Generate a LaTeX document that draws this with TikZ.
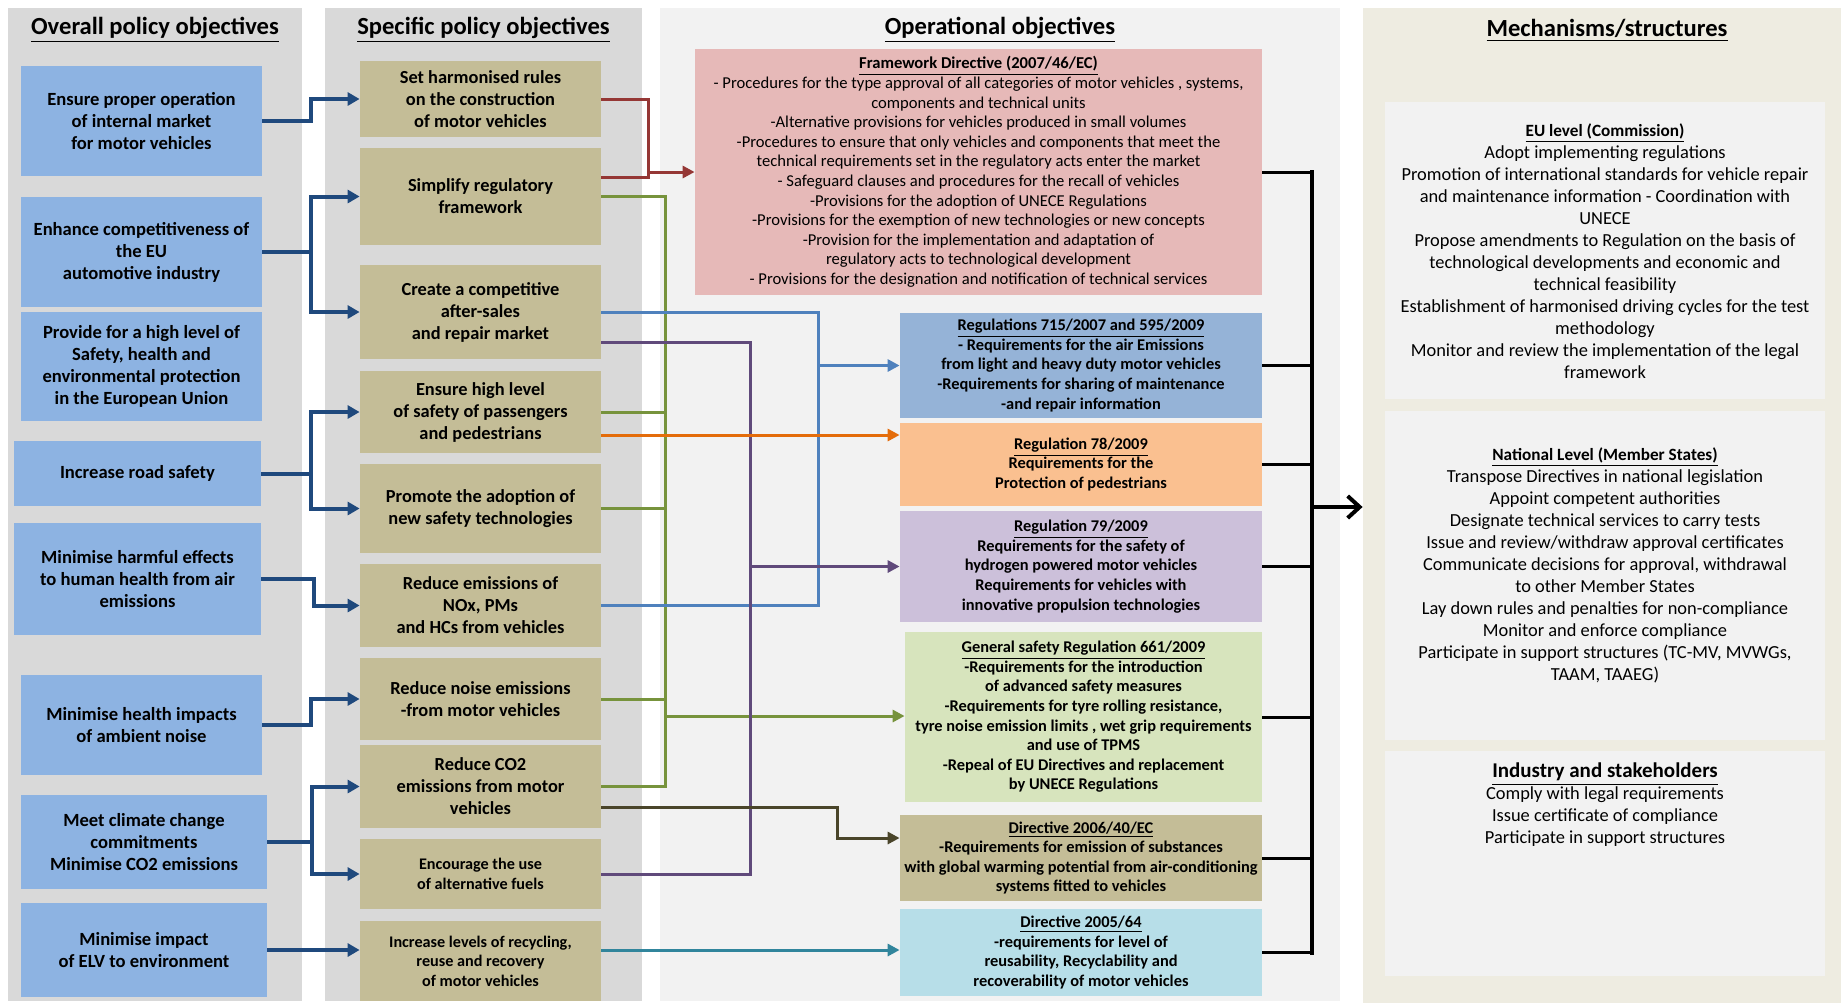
\documentclass[tikz,border=0pt]{standalone}
\usepackage{fontspec}
\setmainfont{Carlito}
\usetikzlibrary{arrows.meta, positioning, calc}

\definecolor{colgray}{HTML}{D9D9D9}
\definecolor{opgray}{HTML}{F2F2F2}
\definecolor{mechbg}{HTML}{EEECE1}
\definecolor{objblue}{HTML}{8DB3E2}
\definecolor{specsand}{HTML}{C4BD97}
\definecolor{fwpink}{HTML}{E6B9B8}
\definecolor{emisblue}{HTML}{95B3D7}
\definecolor{pedorange}{HTML}{FAC090}
\definecolor{hydlilac}{HTML}{CCC0DA}
\definecolor{gsrgreen}{HTML}{D7E4BD}
\definecolor{elvcyan}{HTML}{B7DEE8}
\definecolor{arrnavy}{HTML}{1F497D}
\definecolor{arrred}{HTML}{953735}
\definecolor{arrgreen}{HTML}{77933C}
\definecolor{arrsteel}{HTML}{4F81BD}
\definecolor{arrpurple}{HTML}{604A7B}
\definecolor{arrorange}{HTML}{E46C0A}
\definecolor{arrolive}{HTML}{4A452A}
\definecolor{arrteal}{HTML}{31859C}

\begin{document}
\begin{tikzpicture}[x=0.5pt, y=-0.5pt,
  colbg/.style={inner sep=0, minimum height=496.5pt},
  coltitle/.style={font=\fontsize{12.3}{14}\selectfont\bfseries},
  objbox/.style={fill=objblue, inner sep=0, align=center, font=\fontsize{9.3}{11}\selectfont\bfseries},
  specbox/.style={fill=specsand, inner sep=0, minimum width=120.5pt, align=center, font=\fontsize{9.2}{11}\selectfont\bfseries},
  smallspec/.style={font=\fontsize{8.1}{9.8}\selectfont\bfseries},
  opbox/.style={inner sep=0, align=center, font=\fontsize{8.2}{9.8}\selectfont\bfseries},
  panel/.style={fill=opgray, inner sep=0, minimum width=220pt},
  paneltext/.style={align=center, font=\fontsize{9.2}{11}\selectfont},
  navyarr/.style={draw=arrnavy, line width=2pt, -{Triangle[length=6pt,width=6.5pt]}},
  conn/.style={line width=1.5pt},
  connarr/.style={line width=1.5pt, -{Triangle[length=6pt,width=6pt]}},
]
  \useasboundingbox (0,0) rectangle (1841,1003);

  % Column backgrounds and headings
  \node[colbg, fill=colgray, minimum width=147pt] (c1) at (155,504.5) {};
  \node[colbg, fill=colgray, minimum width=158.5pt] (c2) at (483.5,504.5) {};
  \node[colbg, fill=opgray, minimum width=340pt] (c3) at (1000,504.5) {};
  \node[colbg, fill=mechbg, minimum width=239pt, minimum height=497.5pt] (c4) at (1602,505.5) {};

  \node[coltitle] (t1) at (155,30) {\underline{Overall policy objectives}};
  \node[coltitle] (t2) at (483.5,30) {\underline{Specific policy objectives}};
  \node[coltitle] (t3) at (1000,30) {\underline{Operational objectives}};
  \node[coltitle] (t4) at (1607,30) {\underline{Mechanisms/structures}};

  % Overall policy objectives
  \node[objbox, minimum width=120.5pt, minimum height=55pt] (o1) at (141.5,121) {Ensure proper operation\\of internal market\\for motor vehicles};
  \node[objbox, minimum width=120.5pt, minimum height=55pt] (o2) at (141.5,252) {Enhance competitiveness of\\the EU\\automotive industry};
  \node[objbox, minimum width=120.5pt, minimum height=54.5pt] (o3) at (141.5,366.5) {Provide for a high level of\\Safety, health and\\environmental protection\\in the European Union};
  \node[objbox, minimum width=123.5pt, minimum height=32.5pt] (o4) at (137.5,473.5) {Increase road safety};
  \node[objbox, minimum width=123.5pt, minimum height=56pt] (o5) at (137.5,579) {Minimise harmful effects\\to human health from air\\emissions};
  \node[objbox, minimum width=120.5pt, minimum height=50pt] (o6) at (141.5,725) {Minimise health impacts\\of ambient noise};
  \node[objbox, minimum width=123pt, minimum height=47pt] (o7) at (144,842) {Meet climate change\\commitments\\Minimise CO2 emissions};
  \node[objbox, minimum width=123pt, minimum height=47pt] (o8) at (144,950) {Minimise impact\\of ELV to environment};

  % Specific policy objectives
  \node[specbox, minimum height=38pt] (s1) at (480.5,99) {Set harmonised rules\\on the construction\\of motor vehicles};
  \node[specbox, minimum height=48.5pt] (s2) at (480.5,196.5) {Simplify regulatory\\framework};
  \node[specbox, minimum height=47pt] (s3) at (480.5,312) {Create a competitive\\after-sales\\and repair market};
  \node[specbox, minimum height=41pt] (s4) at (480.5,412) {Ensure high level\\of safety of passengers\\and pedestrians};
  \node[specbox, minimum height=44.5pt] (s5) at (480.5,508.5) {Promote the adoption of\\new safety technologies};
  \node[specbox, minimum height=41.5pt] (s6) at (480.5,605.5) {Reduce emissions of\\NOx, PMs\\and HCs from vehicles};
  \node[specbox, minimum height=41pt] (s7) at (480.5,699) {Reduce noise emissions\\-from motor vehicles};
  \node[specbox, minimum height=41.5pt] (s8) at (480.5,786.5) {Reduce CO2\\emissions from motor\\vehicles};
  \node[specbox, smallspec, minimum height=35pt] (s9) at (480.5,874) {Encourage the use\\of alternative fuels};
  \node[specbox, smallspec, minimum height=40pt] (s10) at (480.5,961) {Increase levels of recycling,\\reuse and recovery\\of motor vehicles};

  % Operational objectives
  \node[opbox, fill=fwpink, minimum width=283.5pt, minimum height=123pt, font=\fontsize{8.3}{9.8}\selectfont] (fd) at (978.5,172) {\textbf{\underline{Framework Directive (2007/46/EC)}}\\- Procedures for the type approval of all categories of motor vehicles , systems,\\components and technical units\\-Alternative provisions for vehicles produced in small volumes\\-Procedures to ensure that only vehicles and components that meet the\\technical requirements set in the regulatory acts enter the market\\- Safeguard clauses and procedures for the recall of vehicles\\-Provisions for the adoption of UNECE Regulations\\-Provisions for the exemption of new technologies or new concepts\\-Provision for the implementation and adaptation of\\regulatory acts to technological development\\- Provisions for the designation and notification of technical services};
  \node[opbox, fill=emisblue, minimum width=181pt, minimum height=52.5pt] (r1) at (1081,365.5) {\underline{Regulations 715/2007 and 595/2009}\\- Requirements for the air Emissions\\from light and heavy duty motor vehicles\\-Requirements for sharing of maintenance\\-and repair information};
  \node[opbox, fill=pedorange, minimum width=181pt, minimum height=41.5pt] (r2) at (1081,464.5) {\underline{Regulation 78/2009}\\Requirements for the\\Protection of pedestrians};
  \node[opbox, fill=hydlilac, minimum width=181pt, minimum height=55.5pt] (r3) at (1081,566.5) {\underline{Regulation 79/2009}\\Requirements for the safety of\\hydrogen powered motor vehicles\\Requirements for vehicles with\\innovative propulsion technologies};
  \node[opbox, fill=gsrgreen, minimum width=178.5pt, minimum height=85pt] (r4) at (1083.5,717) {\underline{General safety Regulation 661/2009}\\-Requirements for the introduction\\of advanced safety measures\\-Requirements for tyre rolling resistance,\\tyre noise emission limits , wet grip requirements\\and use of TPMS\\-Repeal of EU Directives and replacement\\by UNECE Regulations};
  \node[opbox, fill=specsand, minimum width=181pt, minimum height=43pt] (r5) at (1081,858) {\underline{Directive 2006/40/EC}\\-Requirements for emission of substances\\with global warming potential from air-conditioning\\systems fitted to vehicles};
  \node[opbox, fill=elvcyan, minimum width=181pt, minimum height=43.5pt] (r6) at (1081,952.5) {\underline{Directive 2005/64}\\-requirements for level of\\reusability, Recyclability and\\recoverability of motor vehicles};

  % Mechanisms/structures
  \node[panel, minimum height=148.5pt] (p1) at (1605,250.5) {};
  \node[panel, minimum height=164.5pt] (p2) at (1605,575.5) {};
  \node[panel, minimum height=112.5pt] (p3) at (1605,863.5) {};
  \node[paneltext] (p1t) at (1605,251) {{\fontsize{8.6}{11}\selectfont\textbf{\underline{EU level (Commission)}}}\\Adopt implementing regulations\\Promotion of international standards for vehicle repair\\and maintenance information - Coordination with\\UNECE\\Propose amendments to Regulation on the basis of\\technological developments and economic and\\technical feasibility\\Establishment of harmonised driving cycles for the test\\methodology\\Monitor and review the implementation of the legal\\framework};
  \node[paneltext] (p2t) at (1605,565) {{\fontsize{8.6}{11}\selectfont\textbf{\underline{National Level (Member States)}}}\\Transpose Directives in national legislation\\Appoint competent authorities\\Designate technical services to carry tests\\Issue and review/withdraw approval certificates\\Communicate decisions for approval, withdrawal\\to other Member States\\Lay down rules and penalties for non-compliance\\Monitor and enforce compliance\\Participate in support structures (TC-MV, MVWGs,\\TAAM, TAAEG)};
  \node[paneltext, anchor=north] (p3t) at (1605,756) {{\fontsize{10.5}{12}\selectfont\textbf{\underline{Industry and stakeholders}}}\\Comply with legal requirements\\Issue certificate of compliance\\Participate in support structures};

  % Overall -> specific
  \draw[navyarr] (o1.east) -- ++(49,0) |- (s1.west);
  \draw[navyarr] (o2.east) -- ++(49,0) |- (s2.west);
  \draw[navyarr] (o2.east) -- ++(49,0) |- (s3.west);
  \draw[navyarr] (o4.east) -- ++(50,0) |- (s4.west);
  \draw[navyarr] (o4.east) -- ++(50,0) |- (s5.west);
  \draw[navyarr] (o5.east) -- ++(53,0) |- (s6.west);
  \draw[navyarr] (o6.east) -- ++(49,0) |- (s7.west);
  \draw[navyarr] (o7.east) -- ++(45,0) |- (s8.west);
  \draw[navyarr] (o7.east) -- ++(45,0) |- (s9.west);
  \draw[navyarr] (o8.east) -- (o8.east -| s10.west);

  % Specific -> operational
  \coordinate (rj) at (648,172);
  \coordinate (gj) at (665,716);
  \coordinate (bj) at (818,365.5);
  \coordinate (pj) at (750,566.5);
  \coordinate (oa) at ($(s4.east)+(0,23)$);
  \coordinate (ka) at ($(s8.east)+(0,20.5)$);
  \coordinate (kb) at ($(r5.west)+(0,-20)$);
  \coordinate (ta) at ($(s10.east)+(0,-11)$);

  \draw[conn, arrred] (s1.east) -| (rj);
  \draw[conn, arrred] ($(s2.east)+(0,-19.5)$) -| (rj);
  \draw[connarr, arrred] (rj) -- (rj -| fd.west);

  \foreach \s in {s2,s4,s5,s7,s8}
    \draw[conn, arrgreen] (\s.east) -| (gj);
  \draw[connarr, arrgreen] (gj) -- (gj -| r4.west);

  \draw[conn, arrsteel] (s3.east) -| (bj);
  \draw[conn, arrsteel] (s6.east) -| (bj);
  \draw[connarr, arrsteel] (bj) -- (r1.west);

  \draw[conn, arrpurple] ($(s3.east)+(0,30)$) -| (pj);
  \draw[conn, arrpurple] (s9.east) -| (pj);
  \draw[connarr, arrpurple] (pj) -- (r3.west);

  \draw[connarr, arrorange] (oa) -- (oa -| r2.west);
  \draw[connarr, arrolive] (ka) -| ($(kb)+(-62,0)$) -- (kb);
  \draw[connarr, arrteal] (ta) -- (ta -| r6.west);

  % Operational -> mechanisms
  \coordinate (mj) at (1312,507);
  \foreach \r in {fd,r1,r2,r3,r4,r5,r6}
    \draw[conn] (\r.east) -- (\r.east -| mj);
  \draw[line width=2pt, line cap=rect] (mj |- fd.east) -- (mj |- r6.east);
  \draw[line width=2pt, -{Straight Barb[length=6pt,width=11pt]}] (mj) -- (mj -| c4.west);
\end{tikzpicture}
\end{document}
